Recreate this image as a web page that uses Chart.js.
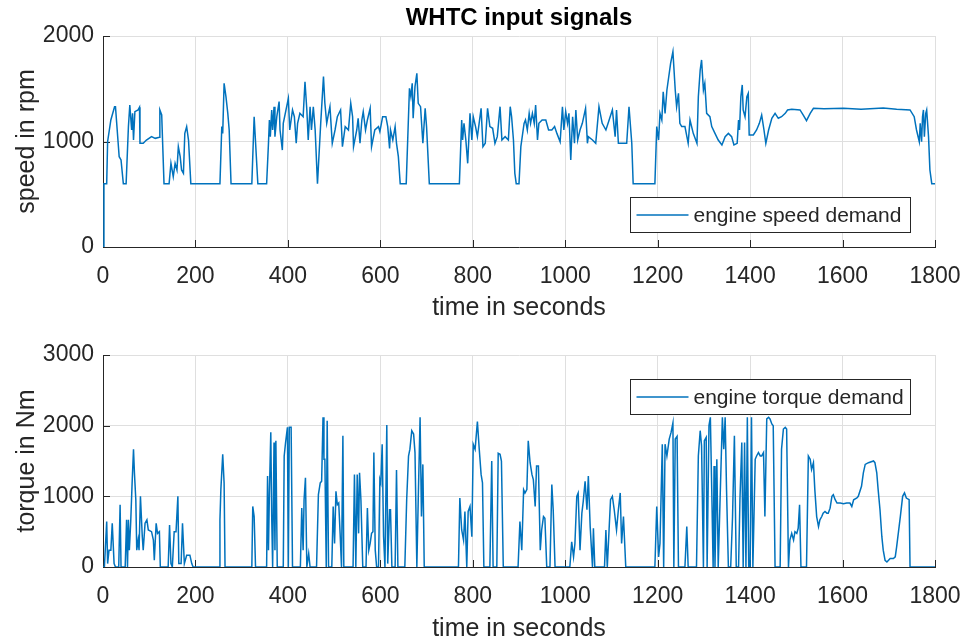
<!DOCTYPE html>
<html><head><meta charset="utf-8">
<script src="https://cdn.jsdelivr.net/npm/chart.js@4.4.1/dist/chart.umd.min.js"></script>
<style>
html,body{margin:0;padding:0;background:#fff;}
#wrap{position:relative;width:964px;height:642px;overflow:hidden;}
canvas{position:absolute;left:0;}
</style></head><body>
<div id="wrap">
<canvas id="topChart" width="964" height="321" style="top:0"></canvas>
<canvas id="botChart" width="964" height="321" style="top:321px"></canvas>
</div>
<script>
const chartTitle = "WHTC input signals";
const xLabel = "time in seconds";
const speedLabel = "speed in rpm";
const torqueLabel = "torque in Nm";
const speedLegend = "engine speed demand";
const torqueLegend = "engine torque demand";
const timeMin = 0, timeMax = 1800, timeStep = 200;
const speedMax = 2000, speedStep = 1000;
const torqueMax = 3000, torqueStep = 1000;

const speedTime = [0,2,8,10,17,25,27,35,39,44,50,55,58,62,64,66,69,76,79,80,87,94,105,113,122,123,127,132,143,147,152,156,160,163,167,170,174,177,181,185,190,253,257,259,262,266,270,273,277,322,327,335,354,358,360,362,365,367,370,372,376,381,383,388,390,401,404,410,414,418,421,426,433,437,441,444,448,451,455,459,464,471,477,480,484,488,491,496,502,507,514,518,524,531,536,540,542,549,552,556,560,563,568,572,578,581,588,596,599,605,612,616,620,622,627,632,635,639,643,656,663,666,669,671,675,679,682,687,692,697,700,706,771,776,778,781,785,789,794,798,801,806,810,818,822,827,832,837,843,848,853,859,863,870,877,881,884,888,891,894,900,904,907,911,914,918,922,925,929,933,936,940,943,950,958,964,971,977,982,989,994,997,1001,1005,1008,1012,1016,1020,1023,1027,1032,1037,1044,1048,1050,1059,1066,1073,1080,1088,1095,1102,1108,1111,1115,1124,1133,1138,1144,1147,1194,1198,1202,1205,1209,1212,1216,1220,1223,1228,1233,1238,1241,1245,1248,1252,1259,1266,1270,1277,1285,1288,1292,1295,1299,1302,1306,1313,1317,1324,1331,1339,1346,1353,1360,1365,1372,1375,1377,1380,1383,1385,1389,1393,1396,1398,1407,1414,1420,1425,1430,1434,1440,1447,1454,1461,1468,1476,1481,1490,1508,1515,1522,1530,1537,1560,1602,1640,1688,1717,1746,1755,1760,1766,1768,1771,1773,1775,1777,1780,1782,1786,1789,1793,1800];
const speedRpm = [0,600,600,1000,1204,1330,1330,856,825,600,600,1141,1346,1109,1267,1014,1283,1299,1324,983,983,1014,1046,1030,1040,1299,1251,600,600,793,667,793,730,951,856,730,698,1077,1141,1014,600,600,1141,1077,1551,1425,1267,1109,600,600,1235,600,600,983,1204,1046,1299,1109,1330,1046,1235,1378,1109,919,1172,1409,1109,1299,1235,983,1172,1267,1235,1567,1299,1014,1330,1109,1330,1109,600,1172,1615,1362,1172,1267,1330,983,1109,1235,1299,951,1141,1109,1362,1235,951,1109,1220,983,1204,1283,1109,1204,1314,951,1109,1141,1093,1235,1235,1141,935,1109,1014,1141,983,856,600,600,1504,1425,1551,1220,1520,1646,1362,1330,983,1314,1141,600,600,1204,1014,1172,1014,793,1267,1014,1235,1141,1046,1314,951,983,1314,1141,1125,983,1046,1330,1014,1046,1014,1330,1235,1014,698,600,600,951,1046,1172,1204,1109,1267,1172,1267,1172,1346,1014,1172,1204,1204,1109,1109,1141,1077,998,1330,1109,1283,1172,1267,825,1235,983,1299,1014,1109,1172,1314,983,1046,1014,983,1330,1172,1109,1204,1299,1046,1299,983,983,983,1330,983,600,600,1141,1014,1267,1204,1472,1267,1488,1583,1741,1852,1488,1330,1457,1172,1141,1141,983,1204,1077,983,1425,1678,1773,1488,1551,1267,1235,1141,1077,1014,967,1046,1077,1046,967,983,1204,1109,1425,1536,1299,1235,1425,1457,1062,1062,1109,1172,1251,1109,983,1109,1220,1267,1220,1235,1267,1299,1305,1299,1251,1198,1267,1314,1310,1314,1305,1318,1305,1299,1235,1109,998,1172,998,1235,1299,1046,1267,1299,1046,730,600,600];

const torqueTime = [0,3,8,10,13,17,20,24,27,34,37,39,48,51,53,55,57,60,63,66,68,71,73,76,78,81,85,87,91,95,98,105,109,111,115,118,122,124,141,144,147,150,154,158,162,164,169,172,176,181,188,192,195,251,253,255,259,262,264,322,324,327,330,354,356,358,360,363,365,367,370,372,374,377,390,392,395,399,401,403,407,410,427,430,433,435,438,441,445,448,462,466,470,473,476,478,480,483,485,488,495,498,501,504,507,510,513,516,519,521,541,544,547,550,553,555,558,562,569,572,575,578,581,584,586,589,592,596,599,601,604,607,610,614,616,620,622,625,632,635,638,653,657,661,664,668,672,675,679,682,686,689,692,695,769,772,776,780,783,787,790,794,798,801,805,810,814,818,821,824,837,841,844,852,855,859,862,866,898,902,906,910,913,917,920,924,928,931,935,938,942,946,949,953,956,960,967,971,974,978,1010,1014,1018,1021,1025,1028,1032,1036,1039,1043,1047,1050,1054,1059,1061,1064,1085,1088,1091,1098,1102,1106,1111,1115,1119,1122,1126,1131,1194,1198,1202,1205,1210,1213,1216,1220,1225,1229,1233,1235,1238,1242,1245,1259,1263,1266,1284,1288,1292,1295,1299,1301,1305,1307,1311,1314,1317,1320,1322,1324,1328,1331,1340,1343,1346,1349,1353,1358,1362,1366,1370,1375,1378,1382,1385,1388,1391,1394,1397,1400,1403,1406,1411,1414,1418,1422,1425,1429,1432,1436,1440,1443,1447,1450,1454,1465,1468,1472,1476,1479,1483,1486,1490,1494,1497,1501,1504,1507,1510,1522,1526,1530,1533,1537,1540,1544,1548,1551,1555,1558,1562,1566,1569,1573,1577,1580,1584,1588,1595,1602,1609,1616,1620,1624,1631,1634,1641,1645,1649,1656,1667,1670,1674,1677,1681,1685,1688,1692,1696,1703,1710,1714,1717,1725,1730,1734,1738,1744,1746,1800];
const torqueNm = [0,0,643,48,238,238,619,48,0,0,881,0,0,667,0,667,238,643,1190,1667,1333,952,238,381,238,1000,429,238,619,667,524,500,381,95,619,476,500,0,0,595,48,0,500,500,1000,48,48,619,48,167,167,48,0,0,667,1095,1595,1190,0,0,857,714,0,0,1286,238,1048,1905,714,0,1762,238,1786,0,0,1571,1762,1976,0,1976,1976,0,0,833,238,952,1262,0,190,0,0,1024,1190,1214,2119,1524,1524,0,2071,0,0,857,333,1071,881,905,476,0,1857,0,0,1310,0,1310,476,1333,952,0,0,833,238,333,476,500,1619,238,0,0,1238,1190,1738,429,0,2010,48,810,810,0,0,1371,0,0,952,1571,1667,1929,1881,1619,0,952,2119,714,1452,0,0,976,524,381,786,0,786,857,429,1738,1667,2057,1667,1310,1190,0,0,1500,0,0,1610,1595,1500,0,0,643,238,1095,1048,1095,1786,1476,1310,1238,857,1429,1429,238,524,714,690,0,0,1167,810,0,0,357,143,333,1000,1048,238,762,929,1214,810,1286,571,0,548,0,0,524,0,952,1000,810,524,810,1048,333,714,0,0,857,143,333,1738,0,1738,1571,1810,1905,2038,0,1810,1848,0,0,571,0,0,1571,1929,1714,0,1786,1833,0,2000,2119,1095,0,1429,0,1524,0,2119,1667,2119,1095,0,0,714,1857,0,0,952,1762,0,1762,0,2119,0,0,2119,0,1524,1571,1619,1571,1571,1619,714,2095,2119,2095,2024,2000,0,0,1667,1952,1976,1952,0,381,476,381,500,476,548,881,0,0,1571,1524,1381,1476,1095,714,571,667,714,762,786,762,762,833,1000,1024,952,905,905,895,905,905,857,952,976,1000,1143,1333,1452,1476,1500,1476,1333,1095,810,429,238,95,71,119,119,143,286,714,1000,1048,976,952,0,0];

const FONT = "'Liberation Sans', Arial, Helvetica, sans-serif";
const BLUE = '#0072BD';
const AXIS = '#262626';
const GRID = '#dfdfdf';

const toPoints = (xs, ys) => xs.map((x, i) => ({x, y: ys[i]}));

const matlabAxes = {
  id: 'matlabAxes',
  beforeDatasetsDraw(chart) {
    const {ctx, chartArea: a, scales: {x, y}} = chart;
    ctx.save();
    ctx.strokeStyle = AXIS; ctx.lineWidth = 1;
    ctx.beginPath();
    x.ticks.forEach(t => { const px = Math.round(x.getPixelForValue(t.value)) + 0.5; ctx.moveTo(px, a.bottom); ctx.lineTo(px, a.bottom - 7); });
    y.ticks.forEach(t => { const py = Math.round(y.getPixelForValue(t.value)) + 0.5; ctx.moveTo(a.left, py); ctx.lineTo(a.left + 7, py); });
    ctx.stroke();
    ctx.restore();
  },
  afterDraw(chart, args, opts) {
    const {ctx, chartArea: a} = chart;
    ctx.save();
    if (opts.title) {
      ctx.font = 'bold 24px ' + FONT;
      ctx.fillStyle = '#000';
      ctx.textAlign = 'center'; ctx.textBaseline = 'middle';
      ctx.fillText(opts.title, (a.left + a.right) / 2, 18);
    }
    if (opts.legend) {
      const w = 280, h = 35;
      const bx = a.right - 25 - w + 0.5, by = a.top + opts.legendTop + 0.5;
      ctx.fillStyle = '#fff'; ctx.fillRect(bx, by, w, h);
      ctx.strokeStyle = AXIS; ctx.lineWidth = 1; ctx.strokeRect(bx, by, w, h);
      const cy = by + h / 2;
      ctx.strokeStyle = BLUE; ctx.lineWidth = 1.5;
      ctx.beginPath(); ctx.moveTo(bx + 6, cy); ctx.lineTo(bx + 58, cy); ctx.stroke();
      ctx.font = '21px ' + FONT; ctx.fillStyle = AXIS;
      ctx.textAlign = 'left'; ctx.textBaseline = 'middle';
      ctx.fillText(opts.legend, bx + 63, cy + 1);
    }
    ctx.restore();
  }
};

function makeChart(id, xs, ys, yMax, yStep, yTitle, legend, legendTop, title, padTop, xHeight) {
  return new Chart(document.getElementById(id), {
    type: 'line',
    data: { datasets: [{ label: legend, data: toPoints(xs, ys), borderColor: BLUE, borderWidth: 1.5, pointRadius: 0, tension: 0, fill: false }] },
    options: {
      responsive: false, animation: false, devicePixelRatio: 1,
      layout: { padding: { top: padTop, right: 29, left: 0, bottom: 0 } },
      plugins: { legend: { display: false }, tooltip: { enabled: false }, matlabAxes: { title, legend, legendTop } },
      scales: {
        x: {
          type: 'linear', min: timeMin, max: timeMax,
          afterFit: s => { s.height = xHeight; s.paddingRight = 0; s.paddingLeft = 0; },
          grid: { color: GRID, drawTicks: false, lineWidth: 1 },
          border: { color: AXIS, width: 1 },
          ticks: { stepSize: timeStep, color: AXIS, padding: 16, maxRotation: 0, font: { family: FONT, size: 23 }, callback: v => String(v) },
          title: { display: true, text: xLabel, color: AXIS, font: { family: FONT, size: 25, lineHeight: 1.05 }, padding: { top: 0, bottom: 0 } }
        },
        y: {
          min: 0, max: yMax,
          afterFit: s => { s.width = 103; },
          grid: { color: GRID, drawTicks: false, lineWidth: 1 },
          border: { color: AXIS, width: 1 },
          ticks: { stepSize: yStep, color: AXIS, padding: 9, font: { family: FONT, size: 23 }, callback: v => String(v) },
          title: { display: true, text: yTitle, color: AXIS, font: { family: FONT, size: 25 }, padding: { top: 12, bottom: 0 } }
        }
      }
    },
    plugins: [matlabAxes]
  });
}

makeChart('topChart', speedTime, speedRpm, speedMax, speedStep, speedLabel, speedLegend, 161, chartTitle, 36, 74);
makeChart('botChart', torqueTime, torqueNm, torqueMax, torqueStep, torqueLabel, torqueLegend, 24, null, 34, 75);
</script>
</body></html>
